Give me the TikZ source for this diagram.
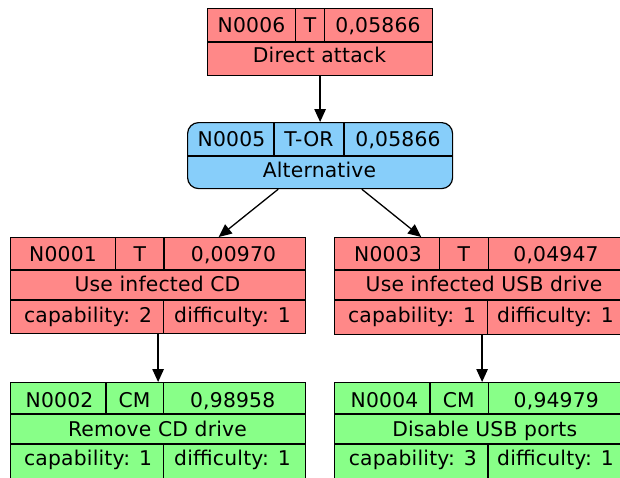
\documentclass[tikz,border=0pt]{standalone}
\usepackage{fontspec}
\setmainfont[LetterSpace=1]{DejaVu Sans}
\usetikzlibrary{arrows.meta}
\definecolor{tred}{HTML}{FF8888}
\definecolor{tgreen}{HTML}{88FF88}
\definecolor{tblue}{HTML}{87CEFA}
\begin{document}
\begin{tikzpicture}[x=1pt,y=-1pt,
  box/.style={draw=black, line width=1.2pt, inner sep=0pt, anchor=north west},
  lbl/.style={inner sep=0pt, text height=14.8pt, text depth=0pt, font=\fontsize{20.3}{24}\selectfont},
  div/.style={line width=1.2pt},
  arr/.style={-{Triangle[length=13pt,width=11.5pt]}, line width=1.3pt}]
\useasboundingbox (0,0) rectangle (620,477);
% N0006
\node[box, fill=tred, minimum width=225pt, minimum height=67pt] (n6) at (207,8) {};
\draw[div] (207,42) -- (432,42) (295.7,8) -- (295.7,42) (324.3,8) -- (324.3,42);
\node[lbl] (n6a) at (251.5,25.3) {N0006};
\node[lbl] (n6b) at (310,25.3) {T};
\node[lbl] (n6c) at (378,25.3) {0,05866};
\node[lbl] (n6d) at (319.5,55.5) {Direct attack};
% N0005
\node[box, fill=tblue, rounded corners=11pt, minimum width=265pt, minimum height=66pt] (n5) at (187,122) {};
\draw[div] (187,156) -- (452,156) (274,122) -- (274,156) (344,122) -- (344,156);
\node[lbl] (n5a) at (231.5,139) {N0005};
\node[lbl] (n5b) at (309,139) {T-OR};
\node[lbl] (n5c) at (398,139) {0,05866};
\node[lbl] (n5d) at (319.5,170.5) {Alternative};
% N0001
\node[box, fill=tred, minimum width=295pt, minimum height=96pt] (n1) at (10,237) {};
\draw[div] (10,270) -- (305,270) (10,300) -- (305,300) (115.7,237) -- (115.7,270) (164,237) -- (164,270) (163.3,300) -- (163.3,333);
\node[lbl] (n1a) at (63,254.3) {N0001};
\node[lbl] (n1b) at (139.9,254.3) {T};
\node[lbl] (n1c) at (233.5,254.3) {0,00970};
\node[lbl] (n1d) at (157.5,284.5) {Use infected CD};
\node[lbl] (n1e) at (88,315) {capability: 2};
\node[lbl] (n1f) at (232.5,315) {difficulty: 1};
% N0003
\node[box, fill=tred, minimum width=295pt, minimum height=97pt] (n3) at (334,237) {};
\draw[div] (334,270) -- (629,270) (334,300) -- (629,300) (439.3,237) -- (439.3,270) (488.3,237) -- (488.3,270) (487.3,300) -- (487.3,334);
\node[lbl] (n3a) at (388,254.3) {N0003};
\node[lbl] (n3b) at (463.8,254.3) {T};
\node[lbl] (n3c) at (556,254.3) {0,04947};
\node[lbl] (n3d) at (484,284.5) {Use infected USB drive};
\node[lbl] (n3e) at (412,315) {capability: 1};
\node[lbl] (n3f) at (555.5,315) {difficulty: 1};
% N0002
\node[box, fill=tgreen, minimum width=295pt, minimum height=97pt] (n2) at (10,382) {};
\draw[div] (10,414) -- (305,414) (10,444) -- (305,444) (106,382) -- (106,414) (163.3,382) -- (163.3,414) (163.3,444) -- (163.3,479);
\node[lbl] (n2a) at (59.5,399.7) {N0002};
\node[lbl] (n2b) at (134.5,399.7) {CM};
\node[lbl] (n2c) at (232.7,399.7) {0,98958};
\node[lbl] (n2d) at (157.5,429.2) {Remove CD drive};
\node[lbl] (n2e) at (88,458) {capability: 1};
\node[lbl] (n2f) at (232.5,458) {difficulty: 1};
% N0004
\node[box, fill=tgreen, minimum width=295pt, minimum height=97pt] (n4) at (334,382) {};
\draw[div] (334,414) -- (629,414) (334,444) -- (629,444) (430,382) -- (430,414) (488.3,382) -- (488.3,414) (488,444) -- (488,479);
\node[lbl] (n4a) at (384.5,399.7) {N0004};
\node[lbl] (n4b) at (458.7,399.7) {CM};
\node[lbl] (n4c) at (556.3,399.7) {0,94979};
\node[lbl] (n4d) at (484.7,429.2) {Disable USB ports};
\node[lbl] (n4e) at (412.8,458) {capability: 3};
\node[lbl] (n4f) at (555.5,458) {difficulty: 1};
% connectors
\draw[arr] (n6) -- (n5);
\draw[arr] (n5) -- (n1);
\draw[arr] (n5) -- (n3);
\draw[arr] (n1) -- (n2);
\draw[arr] (n3) -- (n4);
\end{tikzpicture}
\end{document}
